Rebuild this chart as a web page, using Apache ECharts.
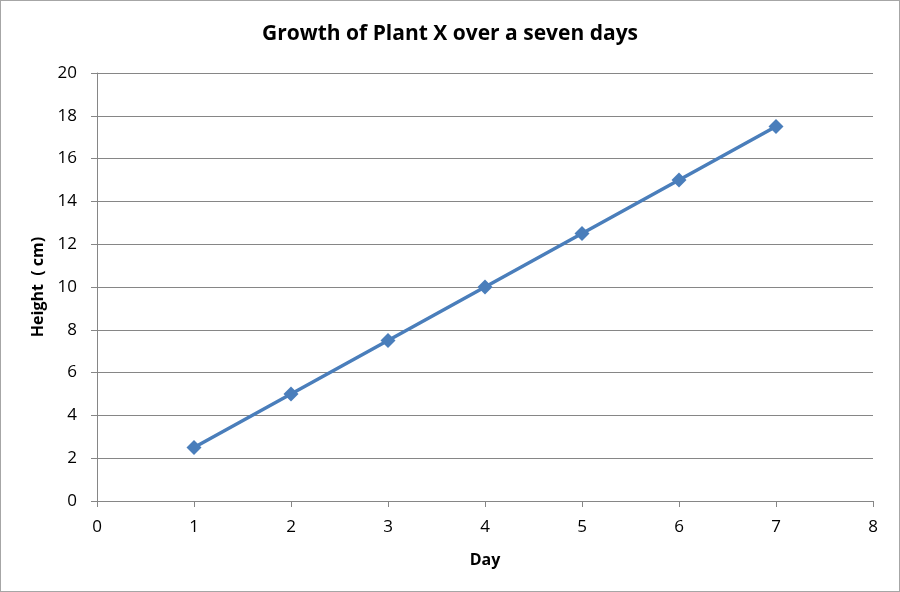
<!DOCTYPE html>
<html>
<head>
<meta charset="utf-8">
<script src="https://cdn.jsdelivr.net/npm/echarts@6/dist/echarts.min.js"></script>
<style>
  html, body { margin: 0; padding: 0; background: #fff; }
  #chart { width: 898px; height: 590px; border: 1px solid #a6a6a6; }
</style>
</head>
<body>
<div id="chart"></div>
<script>
// data
const days = [1, 2, 3, 4, 5, 6, 7];
const heights = [2.5, 5, 7.5, 10, 12.5, 15, 17.5];

const chart = echarts.init(document.getElementById("chart"));
const points = days.map(function (d, i) { return [d, heights[i]]; });
const font = "Open Sans";

const option = {
    animation: false,
    title: {
        text: 'Growth of Plant X over a seven days',
        left: 'center',
        top: 18,
        textStyle: { fontFamily: font, fontSize: 21, fontWeight: 'bold', color: '#000' }
    },
    grid: { left: 96, right: 26, top: 72, bottom: 90 },
    xAxis: {
        type: 'value',
        min: 0,
        max: 8,
        interval: 1,
        name: 'Day',
        nameLocation: 'middle',
        nameGap: 51,
        nameTextStyle: { fontFamily: font, fontSize: 16, fontWeight: 'bold', color: '#000' },
        axisLine: { show: true, lineStyle: { color: '#868686', width: 1 } },
        axisTick: { show: true, length: 6, lineStyle: { color: '#868686' } },
        axisLabel: { fontFamily: font, fontSize: 17, color: '#000', margin: 18 },
        splitLine: { show: false }
    },
    yAxis: {
        type: 'value',
        min: 0,
        max: 20,
        interval: 2,
        name: 'Height  ( cm)',
        nameLocation: 'middle',
        nameGap: 47,
        nameTextStyle: { fontFamily: font, fontSize: 16, fontWeight: 'bold', color: '#000' },
        axisLine: { show: true, lineStyle: { color: '#868686', width: 1 } },
        axisTick: { show: true, length: 6, lineStyle: { color: '#868686' } },
        axisLabel: { fontFamily: font, fontSize: 17, color: '#000', margin: 20 },
        splitLine: { show: true, lineStyle: { color: '#868686', width: 1 } }
    },
    series: [{
        type: 'line',
        data: points,
        symbol: 'diamond',
        symbolSize: 15,
        lineStyle: { color: '#4a7ebb', width: 3.5 },
        itemStyle: { color: '#4a7ebb' }
    }]
};
chart.setOption(option);
</script>
</body>
</html>
